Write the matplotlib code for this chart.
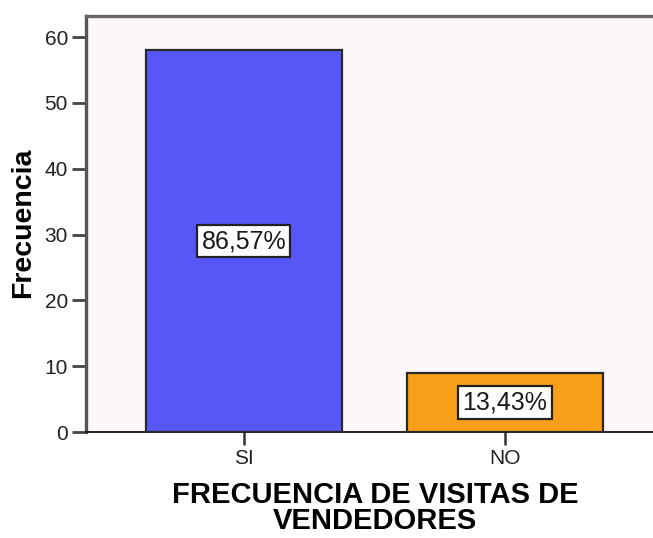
import matplotlib.pyplot as plt

plt.rcParams['font.family'] = ['Liberation Sans', 'DejaVu Sans']

# data
categories = ["SI", "NO"]
counts = [58, 9]
pct_labels = ["86,57%", "13,43%"]
bar_colors = ["#5757f7", "#fa9f1a"]

fig = plt.figure(figsize=(6.53, 5.38), dpi=100)
ax = fig.add_axes([86 / 653, 106 / 538, 1 - 86 / 653, (432 - 16) / 538])
ax.set_facecolor("#fcf7fb")

x = list(range(len(categories)))
ax.bar(x, counts, width=0.75, color=bar_colors, edgecolor="#2a2a2a", linewidth=1.6, zorder=3)

# percentage boxes in the middle of each bar
for xi, c, lab in zip(x, counts, pct_labels):
    ax.text(xi, c / 2, lab, ha="center", va="center", fontsize=18, color="#1a1a1a", zorder=4,
            bbox=dict(boxstyle="square,pad=0.17", facecolor="white", edgecolor="#222222", linewidth=1.6))

ax.set_xlim(-0.605, 1.567)
ax.set_ylim(0, 63.2)
ax.set_yticks([0, 10, 20, 30, 40, 50, 60])
ax.set_xticks(x)
ax.set_xticklabels(categories)

ax.spines["right"].set_visible(False)
ax.spines["top"].set_color("#666666")
ax.spines["top"].set_linewidth(2.4)
ax.spines["left"].set_color("#555555")
ax.spines["left"].set_linewidth(2.4)
ax.spines["bottom"].set_color("#111111")
ax.spines["bottom"].set_linewidth(1.3)

ax.tick_params(axis="y", length=10, width=2, color="#444444", labelsize=15, labelcolor="#222222", pad=3)
ax.tick_params(axis="x", length=9, width=1.8, color="#333333", labelsize=15, labelcolor="#222222", pad=3)

ax.set_ylabel("Frecuencia", fontsize=20.5, fontweight="bold")
ax.yaxis.set_label_coords((23 - 86) / 567, 0.502)
ax.yaxis.label.set_va("center")

ax.set_xlabel("FRECUENCIA DE VISITAS DE\nVENDEDORES", fontsize=21, fontweight="bold", linespacing=0.88)
ax.xaxis.set_label_coords((375 - 86) / 567, (432 - 508) / 416)
ax.xaxis.label.set_va("center")

fig.savefig("out.png", dpi=100)
